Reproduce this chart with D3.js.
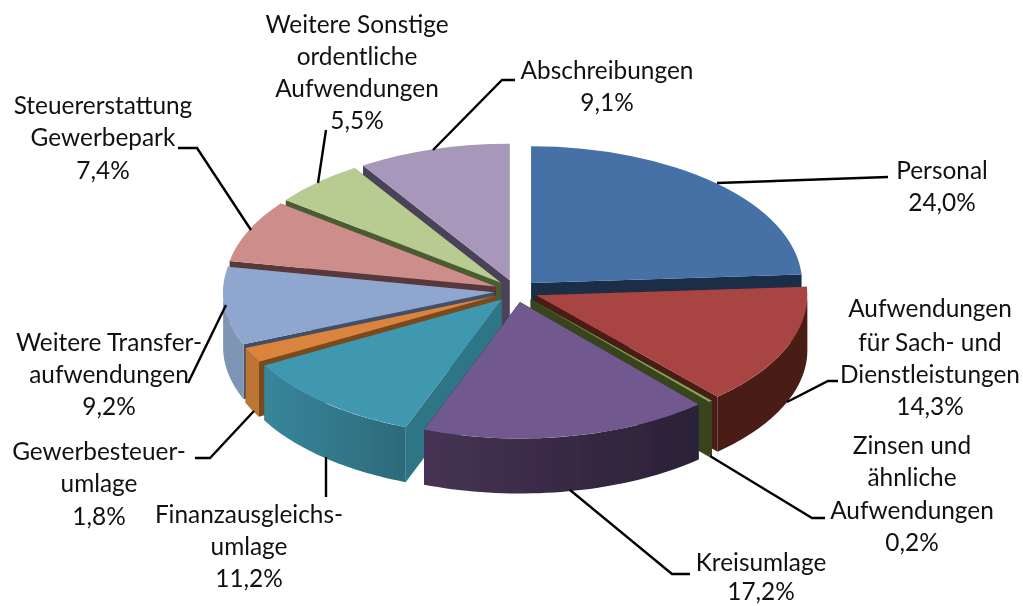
<!DOCTYPE html>
<html>
<head>
<meta charset="utf-8">
<script src="https://cdn.jsdelivr.net/npm/d3@7"></script>
<style>
  html, body { margin: 0; background: #fff; }
  text { font-family: Lato, "Open Sans", sans-serif; font-size: 24.4px; fill: #111; text-anchor: middle; }
</style>
</head>
<body>
<svg class="chart"></svg>
<script>
var width = 1023;
var height = 606;

// data, clockwise from twelve o'clock
var categories = ['Personal', 'Aufwendungen für Sach- und Dienstleistungen', 'Zinsen und ähnliche Aufwendungen',
  'Kreisumlage', 'Finanzausgleichsumlage', 'Gewerbesteuerumlage', 'Weitere Transferaufwendungen',
  'Steuererstattung Gewerbepark', 'Weitere Sonstige ordentliche Aufwendungen', 'Abschreibungen'];
var shares = [24.0, 14.3, 0.2, 17.2, 11.2, 1.8, 9.2, 7.4, 5.5, 9.1];
var labelLines = [
  ['Personal', '24,0%'],
  ['Aufwendungen', 'für Sach- und', 'Dienstleistungen', '14,3%'],
  ['Zinsen und', 'ähnliche', 'Aufwendungen', '0,2%'],
  ['Kreisumlage', '17,2%'],
  ['Finanzausgleichs-', 'umlage', '11,2%'],
  ['Gewerbesteuer-', 'umlage', '1,8%'],
  ['Weitere Transfer-', 'aufwendungen', '9,2%'],
  ['Steuererstattung', 'Gewerbepark', '7,4%'],
  ['Weitere Sonstige', 'ordentliche', 'Aufwendungen', '5,5%'],
  ['Abschreibungen', '9,1%']
];

// colours per slice
var topColors = ['#4571a6', '#a84543', '#89a54e', '#71588f', '#4097b0', '#db843d', '#8fa7cf', '#cd8d8b', '#b8cc92', '#a798bb'];
var faceColors = ['#1a2d47', '#4a1c18', '#38441e', '#2c2238', '#2f7585', '#7a4a1e', '#42506b', '#58393a', '#4c5c33', '#4a4358'];
var wallLeft = ['#4571a6', '#4a1c18', '#38441e', '#463354', '#37869b', '#bd7434', '#7e95b5', '#cd8d8b', '#b8cc92', '#a798bb'];
var wallRight = ['#4571a6', '#4a1c18', '#38441e', '#2b2137', '#2d6a7b', '#bd7434', '#7e95b5', '#cd8d8b', '#b8cc92', '#a798bb'];

// layout of the labels: centre x and text centre y of each line
var labelX = [942, 930, 912, 761, 249, 99, 109, 103, 357, 607];
var labelY = [
  [170, 202],
  [308, 342, 374, 406],
  [445, 477, 510, 542],
  [562, 591],
  [514, 546, 578],
  [451, 483, 516],
  [342, 374, 406],
  [105, 137, 170],
  [24, 56, 88, 120],
  [70, 102]
];
var leaders = [
  [[717, 183], [888, 177]],
  [[787, 402], [828, 381], [838, 381]],
  [[710, 456], [812, 518], [825, 518]],
  [[570, 490], [672, 574], [690, 574]],
  [[326, 457], [326, 497]],
  [[254, 411], [210, 458], [195, 458]],
  [[226, 305], [188, 383]],
  [[251, 230], [197, 148], [178, 148]],
  [[318, 183], [326, 130]],
  [[433, 150], [502, 80], [515, 80]]
];

var cx = 516, cy = 291;
var rx = 271, squash = 0.504, depth = 55, explode = 22;
// back slices first, so the ones in front cover their cut faces
var drawOrder = [9, 8, 7, 6, 5, 4, 0, 1, 2, 3];

var chart = d3.select(".chart")
    .attr("width", width)
    .attr("height", height)
    .style("display", "block");

var defs = chart.append("defs");
defs.append("filter").attr("id", "soft")
    .append("feGaussianBlur").attr("stdDeviation", 0.5);

var pie = d3.pie().sort(null)(shares);
var arc = d3.arc().innerRadius(0).outerRadius(rx);

// screen position of a pie angle (0 = top, clockwise) relative to the slice apex
var px = function(a){ return rx * Math.sin(a); };
var py = function(a){ return -rx * squash * Math.cos(a); };

var pieG = chart.append("g").attr("filter", "url(#soft)");

drawOrder.forEach(function(i){
  var d = pie[i];
  var mid = (d.startAngle + d.endAngle) / 2;
  var apexX = cx + explode * Math.sin(mid);
  var apexY = cy - explode * squash * Math.cos(mid);
  var g = pieG.append("g").attr("transform", "translate(" + apexX + "," + apexY + ")");

  // the two cut faces
  [d.startAngle, d.endAngle].forEach(function(a){
    g.append("path")
      .attr("fill", faceColors[i])
      .attr("d", d3.line()([[0, 0], [px(a), py(a)], [px(a), py(a) + depth], [0, depth]]) + "Z");
  });

  // outer wall, only the part that faces the viewer
  var a0 = Math.max(d.startAngle, Math.PI / 2);
  var a1 = Math.min(d.endAngle, Math.PI * 1.5);
  if (a1 > a0) {
    var gradId = "wall" + i;
    var grad = defs.append("linearGradient").attr("id", gradId)
      .attr("gradientUnits", "userSpaceOnUse")
      .attr("x1", Math.min(px(a0), px(a1))).attr("x2", Math.max(px(a0), px(a1)))
      .attr("y1", 0).attr("y2", 0);
    grad.append("stop").attr("offset", 0).attr("stop-color", wallLeft[i]);
    grad.append("stop").attr("offset", 1).attr("stop-color", wallRight[i]);

    var angles = d3.range(0, 41).map(function(t){ return a0 + (a1 - a0) * t / 40; });
    g.append("path")
      .attr("fill", "url(#" + gradId + ")")
      .attr("d", d3.area()
        .x(function(a){ return px(a); })
        .y0(function(a){ return py(a); })
        .y1(function(a){ return py(a) + depth; })(angles));
  }

  // top of the slice
  g.append("path")
    .attr("transform", "scale(1," + squash + ")")
    .attr("fill", topColors[i])
    .attr("d", arc(d));
});

// leader lines
chart.append("g").selectAll("path")
  .data(leaders)
  .join("path")
    .attr("fill", "none")
    .attr("stroke", "#000")
    .attr("stroke-width", 2.4)
    .attr("d", function(d){ return d3.line()(d); });

// labels
categories.forEach(function(name, i){
  var t = chart.append("g").attr("class", "label");
  labelLines[i].forEach(function(line, j){
    t.append("text")
      .attr("x", labelX[i])
      .attr("y", labelY[i][j])
      .attr("dy", "0.35em")
      .text(line);
  });
});
</script>
</body>
</html>
